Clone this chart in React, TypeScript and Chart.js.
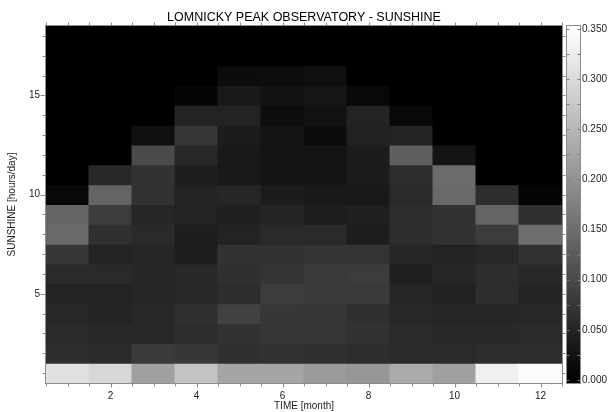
import React, { useEffect, useRef } from 'react';
import { Chart, registerables } from 'chart.js';

Chart.register(...registerables);

// ---- data ----
const months = [1, 2, 3, 4, 5, 6, 7, 8, 9, 10, 11, 12];
const hours = [1, 2, 3, 4, 5, 6, 7, 8, 9, 10, 11, 12, 13, 14, 15, 16, 17, 18];

// relative frequency of daily sunshine duration (rows = hours 1..18)
const jan = [0.309, 0.062, 0.058, 0.055, 0.048, 0.058, 0.076, 0.144, 0.137, 0.011, 0, 0, 0, 0, 0, 0, 0, 0];
const feb = [0.295, 0.058, 0.055, 0.048, 0.048, 0.058, 0.048, 0.066, 0.082, 0.137, 0.055, 0, 0, 0, 0, 0, 0, 0];
const mar = [0.220, 0.080, 0.055, 0.055, 0.052, 0.052, 0.052, 0.058, 0.052, 0.069, 0.069, 0.103, 0.021, 0, 0, 0, 0, 0];
const apr = [0.268, 0.076, 0.062, 0.066, 0.055, 0.055, 0.041, 0.041, 0.048, 0.048, 0.041, 0.055, 0.076, 0.048, 0.007, 0, 0, 0];
const may = [0.226, 0.066, 0.069, 0.089, 0.062, 0.066, 0.069, 0.048, 0.044, 0.052, 0.034, 0.034, 0.038, 0.048, 0.034, 0.016, 0, 0];
const jun = [0.226, 0.069, 0.076, 0.076, 0.082, 0.071, 0.069, 0.058, 0.049, 0.038, 0.029, 0.027, 0.027, 0.018, 0.025, 0.018, 0, 0];
const jul = [0.213, 0.066, 0.076, 0.076, 0.080, 0.080, 0.071, 0.058, 0.041, 0.034, 0.027, 0.027, 0.016, 0.025, 0.030, 0.021, 0, 0];
const aug = [0.206, 0.062, 0.069, 0.066, 0.080, 0.082, 0.071, 0.041, 0.044, 0.034, 0.038, 0.038, 0.045, 0.048, 0.011, 0, 0, 0];
const sep = [0.233, 0.058, 0.058, 0.055, 0.052, 0.044, 0.052, 0.062, 0.062, 0.058, 0.062, 0.130, 0.048, 0.011, 0, 0, 0, 0];
const oct = [0.220, 0.058, 0.055, 0.052, 0.045, 0.052, 0.048, 0.069, 0.069, 0.144, 0.148, 0.027, 0, 0, 0, 0, 0, 0];
const nov = [0.329, 0.062, 0.055, 0.052, 0.062, 0.062, 0.055, 0.082, 0.137, 0.062, 0, 0, 0, 0, 0, 0, 0, 0];
const dec = [0.346, 0.062, 0.058, 0.055, 0.048, 0.055, 0.069, 0.151, 0.066, 0.007, 0, 0, 0, 0, 0, 0, 0, 0];
const monthly = [jan, feb, mar, apr, may, jun, jul, aug, sep, oct, nov, dec];

const xTickValues = [2, 4, 6, 8, 10, 12];
const yTickValues = [5, 10, 15];
const cbTickValues = [0, 0.05, 0.1, 0.15, 0.2, 0.25, 0.3, 0.35];
const VMIN = 0;
const VMAX = 0.35;

const TITLE = 'LOMNICKY PEAK OBSERVATORY - SUNSHINE';
const X_TITLE = 'TIME [month]';
const Y_TITLE = 'SUNSHINE [hours/day]';

const FONT = "'Liberation Sans', Arial, Helvetica, sans-serif";

function gray(v: number) {
  const t = Math.max(0, Math.min(1, (v - VMIN) / (VMAX - VMIN)));
  const g = Math.round(t * 255);
  return `rgb(${g},${g},${g})`;
}

const decorPlugin = {
  id: 'decor',
  beforeDatasetsDraw(chart: any) {
    const { ctx, chartArea: a } = chart;
    ctx.save();
    ctx.fillStyle = gray(VMIN);
    ctx.fillRect(a.left, a.top, a.right - a.left, a.bottom - a.top);
    ctx.restore();
  },
  afterDraw(chart: any) {
    const { ctx, chartArea: a, scales } = chart;
    const x = scales.x;
    const y = scales.y;
    const cb = scales.cb;
    ctx.save();
    ctx.strokeStyle = '#8c8c8c';
    ctx.lineWidth = 1;
    // plot frame
    ctx.strokeRect(Math.round(a.left) - 0.5, Math.round(a.top) - 0.5,
      Math.round(a.right - a.left) + 1, Math.round(a.bottom - a.top) + 1);

    ctx.beginPath();
    // y ticks (every hour), left and right
    for (const h of hours) {
      const py = Math.round(y.getPixelForValue(h)) + 0.5;
      const len = yTickValues.includes(h) ? 5 : 3;
      ctx.moveTo(a.left - 0.5, py); ctx.lineTo(a.left - 0.5 - len, py);
      ctx.moveTo(a.right + 0.5, py); ctx.lineTo(a.right + 0.5 + 3, py);
    }
    // x ticks (every half month), bottom and top
    const xMinor = months.flatMap((m) => [m - 0.5, m]).concat([months[months.length - 1] + 0.5]);
    for (const v of xMinor) {
      const px = Math.round(x.getPixelForValue(v)) + 0.5;
      const len = xTickValues.includes(v) ? 4 : 3;
      ctx.moveTo(px, a.bottom + 0.5); ctx.lineTo(px, a.bottom + 0.5 + len);
      ctx.moveTo(px, a.top - 0.5); ctx.lineTo(px, a.top - 0.5 - 3);
    }
    ctx.stroke();

    // colour bar
    const bx0 = Math.round(a.right) + 5;
    const bx1 = Math.round(a.right) + 18;
    const by0 = Math.round(cb.top);
    const by1 = Math.round(cb.bottom);
    const grad = ctx.createLinearGradient(0, cb.getPixelForValue(VMIN), 0, cb.getPixelForValue(VMAX));
    grad.addColorStop(0, gray(VMIN));
    grad.addColorStop(1, gray(VMAX));
    ctx.fillStyle = grad;
    ctx.fillRect(bx0, by0, bx1 - bx0, by1 - by0);
    ctx.strokeStyle = '#8c8c8c';
    ctx.strokeRect(bx0 - 0.5, by0 - 0.5, bx1 - bx0 + 1, by1 - by0 + 1);
    ctx.beginPath();
    const cbMinor = cbTickValues.flatMap((t) => [t, t + 0.025]).filter((t) => t <= VMAX + 1e-9);
    for (const t of cbMinor) {
      const py = Math.round(cb.getPixelForValue(t)) + 0.5;
      ctx.moveTo(bx0, py); ctx.lineTo(bx0 + 2.5, py);
      ctx.moveTo(bx1, py); ctx.lineTo(bx1 - 2.5, py);
    }
    ctx.strokeStyle = '#7a7a7a';
    ctx.stroke();
    ctx.restore();
  },
};

export default function App() {
  const ref = useRef<HTMLCanvasElement>(null);

  useEffect(() => {
    document.body.style.margin = '0';
    const canvas = ref.current;
    if (!canvas) return;

    const points: any[] = [];
    const colors: string[] = [];
    months.forEach((m, i) => {
      hours.forEach((h, j) => {
        points.push({ x: m, y: [h - 0.5, h + 0.5] });
        colors.push(gray(monthly[i][j]));
      });
    });

    const tickFont = { family: FONT, size: 10 };

    const chart = new Chart(canvas, {
      type: 'bar',
      data: {
        datasets: [
          {
            data: points,
            backgroundColor: colors,
            borderWidth: 0,
            barPercentage: 1,
            categoryPercentage: 1,
            grouped: false,
            inflateAmount: 0.5,
          } as any,
        ],
      },
      options: {
        responsive: false,
        animation: false,
        events: [],
        layout: { padding: 0 },
        plugins: {
          legend: { display: false },
          tooltip: { enabled: false },
          title: {
            display: true,
            text: TITLE,
            color: '#000',
            font: { family: FONT, size: 12.5, weight: 'normal' },
            padding: { top: 10.5, bottom: 0.5 },
          },
        },
        scales: {
          x: {
            type: 'linear',
            min: 0.5,
            max: 12.5,
            offset: false,
            afterBuildTicks: (s: any) => { s.ticks = xTickValues.map((v) => ({ value: v })); },
            afterFit: (s: any) => { s.height = 29; },
            grid: { display: false, drawTicks: false, offset: false },
            border: { display: false },
            ticks: { font: tickFont, color: '#222', padding: 7, maxRotation: 0 },
            title: { display: true, text: X_TITLE, color: '#222', font: tickFont, padding: { top: 0, bottom: 0 } },
          },
          y: {
            type: 'linear',
            min: 0.5,
            max: 18.5,
            afterBuildTicks: (s: any) => { s.ticks = yTickValues.map((v) => ({ value: v })); },
            afterFit: (s: any) => { s.width = 46; },
            grid: { display: false, drawTicks: false },
            border: { display: false },
            ticks: { font: tickFont, color: '#222', padding: 6 },
            title: { display: true, text: Y_TITLE, color: '#222', font: tickFont, padding: { top: 6.5, bottom: 0 } },
          },
          cb: {
            type: 'linear',
            display: true,
            position: 'right',
            min: VMIN - 0.003,
            max: VMAX + 0.003,
            afterBuildTicks: (s: any) => { s.ticks = cbTickValues.map((v) => ({ value: v })); },
            afterFit: (s: any) => { s.width = 46; },
            grid: { display: false, drawTicks: false },
            border: { display: false },
            ticks: { font: tickFont, color: '#222', padding: 20, callback: (v: any) => Number(v).toFixed(3) },
          },
        } as any,
      },
      plugins: [decorPlugin],
    });

    return () => chart.destroy();
  }, []);

  return (
    <div style={{ position: 'absolute', left: 0, top: 0, width: 608, height: 412 }}>
      <canvas ref={ref} width={608} height={412} style={{ display: 'block' }} />
    </div>
  );
}
